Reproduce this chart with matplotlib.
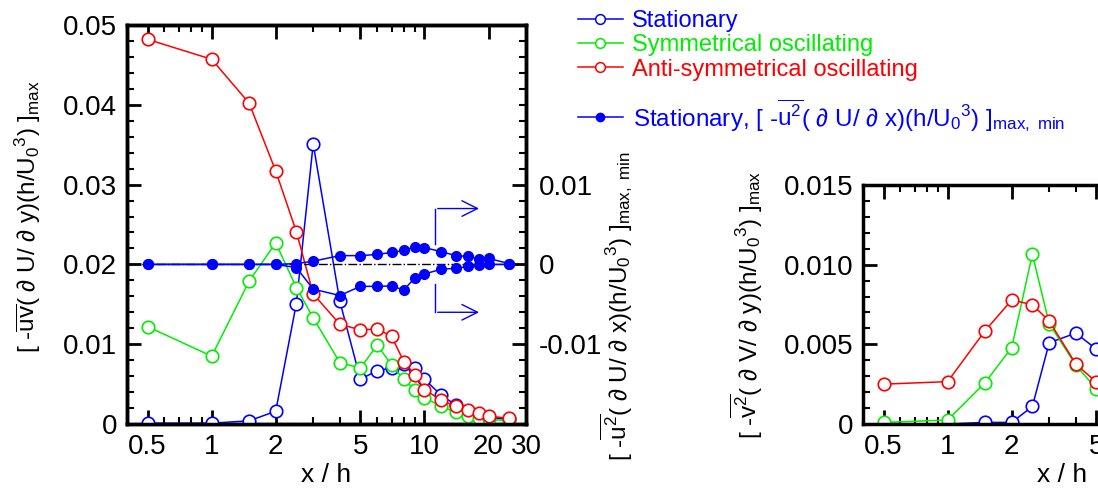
import numpy as np
import matplotlib
matplotlib.use('Agg')
import matplotlib.pyplot as plt
from matplotlib.ticker import FixedLocator, NullFormatter, MultipleLocator, FixedFormatter
from matplotlib.lines import Line2D

plt.rcParams['font.family'] = ['Liberation Sans', 'DejaVu Sans']
plt.rcParams['mathtext.fontset'] = 'custom'
plt.rcParams['mathtext.rm'] = 'Liberation Sans'
plt.rcParams['mathtext.it'] = 'Liberation Sans:italic'

# x / h stations
x = [0.5, 1, 1.5, 2, 2.5, 3, 4, 5, 6, 7, 8, 9, 10, 12, 14, 16, 18, 20, 25]

# left panel, [-uv dU/dy (h/U0^3)]max
uv_stat = [0.0001, 0.0001, 0.0004, 0.0016, 0.0151, 0.0351, 0.0154, 0.0056, 0.0067, 0.0070,
           0.0075, 0.0070, 0.0056, 0.0036, 0.0024, 0.0015, 0.0010, 0.0008, 0.0006]
uv_sym = [0.0122, 0.0085, 0.0179, 0.0227, 0.0171, 0.0133, 0.0077, 0.0070, 0.0099, 0.0074,
          0.0056, 0.0043, 0.0033, 0.0022, 0.0015, 0.0010, 0.0007, 0.0006, 0.0004]
uv_anti = [0.0482, 0.0457, 0.0402, 0.0317, 0.0241, 0.0163, 0.0125, 0.0118, 0.0119, 0.0110,
           0.0078, 0.0062, 0.0043, 0.0030, 0.0022, 0.0017, 0.0014, 0.0010, 0.0007]

# stationary [-u^2 dU/dx (h/U0^3)] max and min (right axis)
uu_max = [0, 0, 0, 0, 0.0001, 0.0004, 0.0011, 0.0011, 0.00125, 0.0015, 0.00175, 0.0022,
          0.0021, 0.0016, 0.0011, 0.0010, 0.0007, 0.00075, 0.0001]
uu_min = [0, 0, 0, 0, -0.0004, -0.0031, -0.0039, -0.00275, -0.00275, -0.0027, -0.0032,
          -0.0017, -0.0012, -0.0006, -0.0005, -0.00025, -0.0001, 0, 0]

# right panel, [-v^2 dV/dy (h/U0^3)]max
x2 = [0.5, 1, 1.5, 2, 2.5, 3, 4, 5]
vv_stat = [0.0, 0.0, 0.0001, 0.0001, 0.0011, 0.0051, 0.0057, 0.0047]
vv_sym = [0.0001, 0.00025, 0.0026, 0.0048, 0.01065, 0.0063, 0.0037, 0.0022]
vv_anti = [0.0025, 0.00266, 0.00586, 0.00778, 0.00749, 0.00646, 0.00377, 0.00262]

xticks = [0.5, 1, 2, 5, 10, 20, 30]
xticklabels = ['0.5', '1', '2', '5', '10', '20', '30']

blue, green, red = '#0000ff', '#00ee00', '#ff0000'
open_kw = dict(marker='o', ms=9, mfc='white', mew=1.2, lw=1.1)

U03 = r'(h/U$_0$$^3$)'
LAB = 17.5

W, H = 1098, 497
fig = plt.figure(figsize=(W / 100, H / 100), dpi=100)


def style_x(ax):
    ax.set_xscale('log')
    ax.set_xlim(0.4, 30)
    ax.xaxis.set_major_locator(FixedLocator(xticks))
    ax.xaxis.set_major_formatter(FixedFormatter(xticklabels))
    ax.xaxis.set_minor_formatter(NullFormatter())
    ax.set_xlabel('x / h', fontsize=19, labelpad=2)


def style_ticks(ax, **kw):
    ax.tick_params(which='major', direction='in', length=10, width=2, labelsize=20, pad=7, **kw)
    ax.tick_params(which='minor', direction='in', length=5, width=1.5, **kw)
    for s in ax.spines.values():
        s.set_linewidth(2.5)


# ---- left panel
ax1 = fig.add_axes([127 / W, 1 - 424 / H, 399 / W, 399 / H])
ax1.plot(x, uv_stat, color=blue, **open_kw, zorder=4)
ax1.plot(x, uv_sym, color=green, **open_kw, zorder=4)
ax1.plot(x, uv_anti, color=red, **open_kw, zorder=4)
style_x(ax1)
ax1.set_ylim(0, 0.05)
ax1.yaxis.set_minor_locator(MultipleLocator(0.002))
ax1.set_yticks([0, 0.01, 0.02, 0.03, 0.04, 0.05])
ax1.set_yticklabels(['0', '0.01', '0.02', '0.03', '0.04', '0.05'])
style_ticks(ax1, top=True, left=True, right=False)
ax1.set_ylabel(r'[ -$\overline{\mathrm{uv}}$( $\mathit{\partial}$ U/ $\mathit{\partial}$ y)' + U03 + r' ]$_{\mathrm{max}}$',
               fontsize=LAB)
ax1.yaxis.set_label_coords(-0.21, 0.52)

ax2 = ax1.twinx()
ax2.axhline(0, color='black', lw=1, ls='-.', zorder=1)
ax2.plot(x, uu_max, color=blue, marker='o', ms=7, lw=1.1, zorder=3)
ax2.plot(x, uu_min, color=blue, marker='o', ms=7, lw=1.1, zorder=3)
ax2.set_ylim(-0.02, 0.03)
ax2.set_yticks([-0.01, 0, 0.01])
ax2.set_yticklabels(['-0.01', '0', '0.01'])
ax2.yaxis.set_minor_locator(MultipleLocator(0.002))
style_ticks(ax2, right=True, left=False)
ax2.tick_params(axis='y', pad=9)
ax2.set_ylabel(r'[ -$\overline{\mathrm{u}^2}$( $\partial$ U/ $\partial$ x)' + U03 + r' ]$_{\mathrm{max,\ min}}$',
               fontsize=LAB)
ax2.yaxis.set_label_coords(1.18, 0.296)

# arrows pointing to the right axis
ax2.plot([11.2, 11.2], [0.007, 0.0025], color=blue, lw=1)
ax2.plot([11.2, 11.2], [-0.0025, -0.006], color=blue, lw=1)
for yy in (0.007, -0.006):
    ax2.annotate('', xy=(18.6, yy), xytext=(11.2, yy),
                 arrowprops=dict(arrowstyle='->', color=blue, lw=1, mutation_scale=28))

# ---- right panel (cut by the figure edge)
ax3 = fig.add_axes([863 / W, 1 - 424 / H, 399 / W, 239 / H])
ax3.plot(x2, vv_stat, color=blue, **open_kw)
ax3.plot(x2, vv_sym, color=green, **open_kw)
ax3.plot(x2, vv_anti, color=red, **open_kw)
style_x(ax3)
ax3.set_ylim(0, 0.015)
ax3.set_yticks([0, 0.005, 0.010, 0.015])
ax3.set_yticklabels(['0', '0.005', '0.010', '0.015'])
ax3.yaxis.set_minor_locator(MultipleLocator(0.001))
style_ticks(ax3, top=True, left=True, right=True)
ax3.set_ylabel(r'[ -$\overline{\mathrm{v}^2}$( $\mathit{\partial}$ V/ $\mathit{\partial}$ y)' + U03 + r' ]$_{\mathrm{max}}$',
               fontsize=LAB)
ax3.yaxis.set_label_coords(-0.245, 0.50)

# ---- legends
h_open = [Line2D([], [], color=c, marker='o', ms=7, mfc='white', mew=1.1, lw=1.1)
          for c in (blue, green, red)]
leg1 = fig.legend(h_open, ['Stationary', 'Symmetrical oscillating', 'Anti-symmetrical oscillating'],
                  loc='upper left', bbox_to_anchor=(578 / W, 1 - 10 / H), frameon=False,
                  fontsize=17, handlelength=1.9, handletextpad=0.4, labelspacing=0.1,
                  borderaxespad=0, borderpad=0)
for t, c in zip(leg1.get_texts(), (blue, green, red)):
    t.set_color(c)
h_fill = [Line2D([], [], color=blue, marker='o', ms=6, lw=1.1)]
leg2 = fig.legend(h_fill, [r'Stationary, [ -$\overline{\mathrm{u}^2}$( $\partial$ U/ $\partial$ x)' + U03 + r' ]$_{\mathrm{max,\ min}}$'],
                  loc='upper left', bbox_to_anchor=(578 / W, 1 - 97 / H), frameon=False,
                  fontsize=17.5, handlelength=1.85, handletextpad=0.4,
                  borderaxespad=0, borderpad=0)
leg2.get_texts()[0].set_color(blue)

fig.savefig('out.png', dpi=100)
